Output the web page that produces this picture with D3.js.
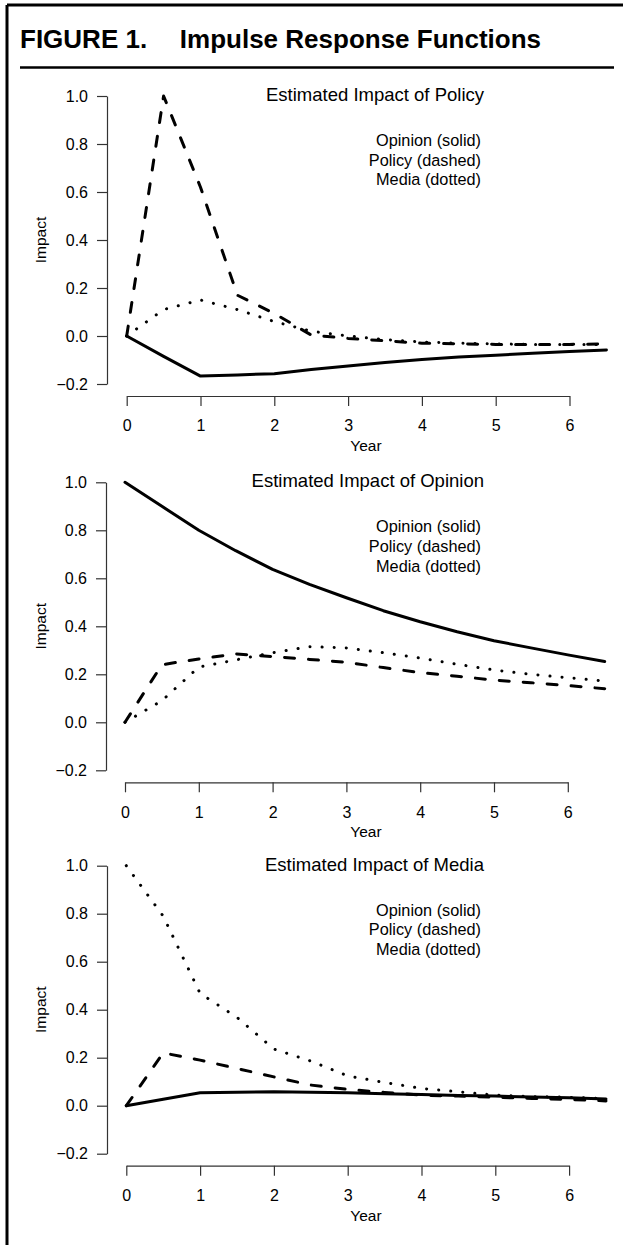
<!DOCTYPE html>
<html><head><meta charset="utf-8">
<script src="https://cdn.jsdelivr.net/npm/d3@7"></script>
<style>
html,body{margin:0;padding:0;background:#fff;}
svg text{font-family:"Liberation Sans",Arial,Helvetica,sans-serif;fill:#000;}
</style></head>
<body>
<svg id="chart" width="623" height="1245"></svg>
<script>
// ---- data ----
const years = [0, 0.5, 1, 1.5, 2, 2.5, 3, 3.5, 4, 4.5, 5, 5.5, 6, 6.5];
const xTicks = [0, 1, 2, 3, 4, 5, 6];
const yTicks = [-0.2, 0, 0.2, 0.4, 0.6, 0.8, 1.0];
const panelTitles = ["Estimated Impact of Policy", "Estimated Impact of Opinion", "Estimated Impact of Media"];
const legendLabels = ["Opinion (solid)", "Policy (dashed)", "Media (dotted)"];

// Impact of Policy
const policyShockOpinion = [0, -0.085, -0.167, -0.162, -0.157, -0.14, -0.125, -0.11, -0.098, -0.088, -0.08, -0.072, -0.065, -0.058];
const policyShockPolicy  = [0, 1.0, 0.62, 0.17, 0.094, 0.004, -0.01, -0.02, -0.03, -0.033, -0.035, -0.035, -0.035, -0.033];
const policyShockMedia   = [0, 0.11, 0.15, 0.11, 0.06, 0.02, 0.0, -0.015, -0.025, -0.03, -0.033, -0.035, -0.035, -0.035];
// Impact of Opinion
const opinionShockOpinion = [1.0, 0.90, 0.80, 0.715, 0.637, 0.575, 0.519, 0.465, 0.419, 0.377, 0.34, 0.31, 0.281, 0.253];
const opinionShockPolicy  = [0, 0.24, 0.264, 0.285, 0.274, 0.262, 0.25, 0.228, 0.207, 0.192, 0.176, 0.165, 0.153, 0.14];
const opinionShockMedia   = [0, 0.09, 0.23, 0.26, 0.29, 0.315, 0.31, 0.29, 0.268, 0.242, 0.218, 0.2, 0.186, 0.172];
// Impact of Media
const mediaShockOpinion = [0, 0.027, 0.054, 0.056, 0.058, 0.056, 0.054, 0.05, 0.047, 0.043, 0.04, 0.036, 0.033, 0.028];
const mediaShockPolicy  = [0, 0.22, 0.19, 0.155, 0.12, 0.086, 0.068, 0.055, 0.044, 0.04, 0.035, 0.03, 0.026, 0.02];
const mediaShockMedia   = [1.0, 0.79, 0.468, 0.368, 0.236, 0.186, 0.124, 0.097, 0.072, 0.058, 0.044, 0.038, 0.035, 0.03];

const panelSeries = [
  [policyShockOpinion, policyShockPolicy, policyShockMedia],
  [opinionShockOpinion, opinionShockPolicy, opinionShockMedia],
  [mediaShockOpinion, mediaShockPolicy, mediaShockMedia]
];

// ---- layout ----
const svg = d3.select("#chart");
const FONT = 16;
const panelTop = [96, 482.3, 865.7];
const panelX0 = [126.7, 125, 126.3];
const axisX = [107, 106, 107];
const unit = 73.8;
const plotH = 288;
const dashStyles = [null, "10,14", "0.1,12"];

// frame
svg.append("line").attr("x1", 7).attr("x2", 7).attr("y1", 5).attr("y2", 1245)
  .attr("stroke", "#000").attr("stroke-width", 3);
svg.append("line").attr("x1", 7).attr("x2", 623).attr("y1", 5).attr("y2", 5)
  .attr("stroke", "#000").attr("stroke-width", 3);

// header
svg.append("text").attr("x", 20).attr("y", 48).attr("font-size", 26).attr("font-weight", "bold")
  .text("FIGURE 1.");
svg.append("text").attr("x", 541).attr("y", 48).attr("text-anchor", "end").attr("font-size", 26).attr("font-weight", "bold")
  .text("Impulse Response Functions");
svg.append("line").attr("x1", 20).attr("x2", 614).attr("y1", 67.5).attr("y2", 67.5)
  .attr("stroke", "#000").attr("stroke-width", 2.5);

const fmt = v => (v < 0 ? "\u2212" : "") + Math.abs(v).toFixed(1);

panelSeries.forEach((series, p) => {
  const yt = panelTop[p], yb = yt + plotH;
  const x = d3.scaleLinear().domain([0, 6]).range([panelX0[p], panelX0[p] + 6 * unit]);
  const y = d3.scaleLinear().domain([-0.2, 1.0]).range([yb, yt]);
  const g = svg.append("g");

  // y axis
  const ya = g.append("g").attr("transform", `translate(${axisX[p]},0)`)
    .call(d3.axisLeft(y).tickValues(yTicks).tickFormat(fmt).tickSize(10).tickPadding(9).tickSizeOuter(0));
  ya.select(".domain").attr("stroke", "#333").attr("stroke-width", 1.2);
  ya.selectAll(".tick line").attr("stroke", "#333").attr("stroke-width", 1.2);
  ya.selectAll(".tick text").attr("font-size", FONT).attr("font-family", '"Liberation Sans",Arial,sans-serif').attr("fill", "#000");

  // x axis
  const axY = yb + 12;
  const xa = g.append("g").attr("transform", `translate(0,${axY})`)
    .call(d3.axisBottom(x).tickValues(xTicks).tickFormat(d3.format("d")).tickSize(10).tickSizeOuter(0).tickPadding(14));
  xa.select(".domain").attr("stroke", "#333").attr("stroke-width", 1.2);
  xa.selectAll(".tick line").attr("stroke", "#333").attr("stroke-width", 1.2);
  xa.selectAll(".tick text").attr("font-size", FONT).attr("font-family", '"Liberation Sans",Arial,sans-serif').attr("fill", "#000");

  // axis titles
  g.append("text").attr("x", 366).attr("y", yb + 67).attr("text-anchor", "middle").attr("font-size", 15.5).text("Year");
  g.append("text").attr("transform", `translate(46,${(yt + yb) / 2}) rotate(-90)`)
    .attr("text-anchor", "middle").attr("font-size", 15.5).text("Impact");

  // panel title
  g.append("text").attr("x", 484).attr("y", yt + 5).attr("text-anchor", "end").attr("font-size", 18.5)
    .text(panelTitles[p]);
  // legend text
  legendLabels.forEach((lab, i) => {
    g.append("text").attr("x", 481).attr("y", yt + 50 + i * 19.6).attr("text-anchor", "end")
      .attr("font-size", 16.3).text(lab);
  });

  // lines
  const line = d3.line().x((d, i) => x(years[i])).y(d => y(d));
  series.forEach((vals, s) => {
    const path = g.append("path").datum(vals).attr("d", line)
      .attr("fill", "none").attr("stroke", "#000").attr("stroke-width", 3)
      .attr("stroke-linejoin", "round").attr("stroke-linecap", "round");
    if (dashStyles[s]) path.attr("stroke-dasharray", dashStyles[s]);
  });
});
</script>
</body></html>
